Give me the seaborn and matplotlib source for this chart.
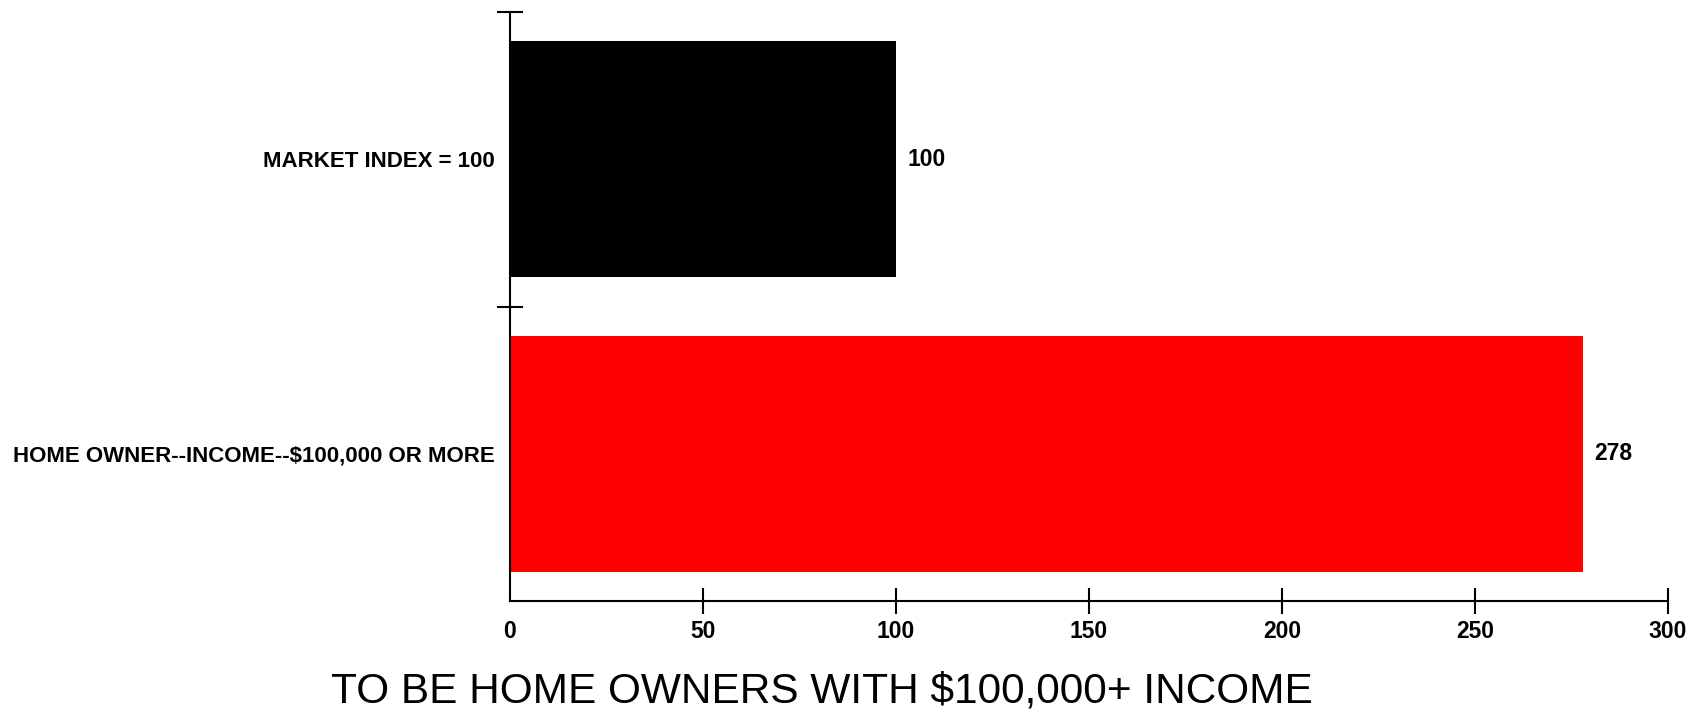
import matplotlib
matplotlib.use("Agg")
import matplotlib.pyplot as plt
import seaborn as sns
import pandas as pd
from matplotlib import font_manager as fm

categories = ["MARKET INDEX = 100", "HOME OWNER--INCOME--$100,000 OR MORE"]
values = [100, 278]
bar_colors = ["#000000", "#FF0000"]
x_ticks = [0, 50, 100, 150, 200, 250, 300]
title = "TO BE HOME OWNERS WITH $100,000+ INCOME"

sns.set_theme(style="white")
names = {f.name for f in fm.fontManager.ttflist}
narrow = "Liberation Sans Narrow" if "Liberation Sans Narrow" in names else "Liberation Sans"
plt.rcParams["font.family"] = [narrow, "DejaVu Sans"]
plt.rcParams["text.color"] = "black"
plt.rcParams["xtick.color"] = "black"
plt.rcParams["ytick.color"] = "black"

df = pd.DataFrame({"cat": categories, "val": values})

fig = plt.figure(figsize=(16.96, 7.10), dpi=100)
ax = fig.add_axes([510/1696, 1-601/710, (1668-510)/1696, (601-12)/710])
sns.barplot(data=df, y="cat", x="val", hue="cat", palette=bar_colors, legend=False,
            orient="h", width=0.8, ax=ax, saturation=1, edgecolor="none")

ax.set_xlim(0, 300)
ax.set_ylim(1.5, -0.5)
ax.set_xlabel("")
ax.set_ylabel("")
for s in ["top", "right"]:
    ax.spines[s].set_visible(False)
for s in ["left", "bottom"]:
    ax.spines[s].set_color("black")
    ax.spines[s].set_linewidth(1.5)

ax.set_xticks(x_ticks)
ax.set_xticklabels([str(t) for t in x_ticks], fontsize=16.5, fontweight="bold")
ax.tick_params(axis="x", bottom=True, direction="inout", length=19, width=1.5, color="black", pad=4)
ax.xaxis.get_major_ticks()[0].tick1line.set_visible(False)

ax.set_yticks([-0.5, 0.5])
ax.set_yticklabels([])
ax.set_yticks([0, 1], minor=True)
ax.set_yticklabels(categories, minor=True, fontsize=16, fontweight="bold")
ax.tick_params(axis="y", which="major", direction="inout", length=19, width=1.5, color="black", left=True)
ax.tick_params(axis="y", which="minor", length=0, pad=11, left=True)

for i, v in enumerate(values):
    ax.text(v + 3, i, str(v), va="center", ha="left", fontsize=16.5, fontweight="bold", color="black")

fig.text((330 + 1314) / 2 / 1696, 1 - 692/710, title, ha="center", va="center", fontsize=30.5, color="black")

fig.savefig("out.png", dpi=100)
